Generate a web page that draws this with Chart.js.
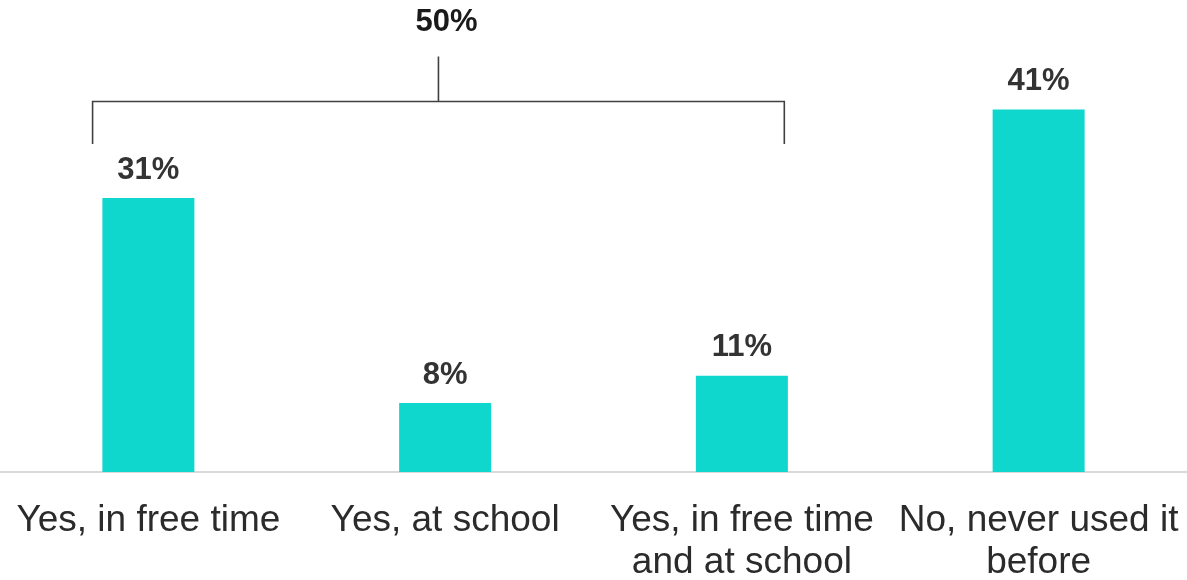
<!DOCTYPE html>
<html>
<head>
<meta charset="utf-8">
<script src="https://cdn.jsdelivr.net/npm/chart.js@4"></script>
<style>
html,body{margin:0;padding:0;background:#fff;}
#wrap{width:1187px;height:580px;position:relative;}
</style>
</head>
<body>
<div id="wrap"><canvas id="c" width="1187" height="580"></canvas></div>
<script>
const categories = [["Yes, in free time"], ["Yes, at school"], ["Yes, in free time", "and at school"], ["No, never used it", "before"]];
const values = [31, 7.8, 10.9, 41];
const valueLabels = ["31%", "8%", "11%", "41%"];
const bracketLabel = "50%";
const bracketLevel = 42;      // y value of horizontal bracket line
const bracketFoot = 37.1;     // y value of bracket legs' lower end
const bracketStem = 47;       // y value of centre stem top
const bracketText = 50.9;     // y value of the bracket label

const FONT = "'Liberation Sans', Arial, sans-serif";

const annot = {
  id: 'annot',
  afterDatasetsDraw(chart) {
    const ctx = chart.ctx;
    const xs = chart.scales.x, ys = chart.scales.y;
    const meta = chart.getDatasetMeta(0);
    ctx.save();
    ctx.font = "bold 31px " + FONT;
    ctx.fillStyle = "#333333";
    ctx.textAlign = "center";
    ctx.textBaseline = "middle";
    meta.data.forEach((bar, i) => {
      ctx.fillText(valueLabels[i], bar.x, bar.y - 28);
    });
    // bracket
    const cw = xs.getPixelForValue(1) - xs.getPixelForValue(0);
    const left = xs.getPixelForValue(0) - 0.188 * cw;
    const right = xs.getPixelForValue(2) + 0.143 * cw;
    const mid = (left + right) / 2;
    const yl = Math.round(ys.getPixelForValue(bracketLevel)) + 0.5;
    const yf = ys.getPixelForValue(bracketFoot);
    const yt = ys.getPixelForValue(bracketStem);
    ctx.strokeStyle = "#404040";
    ctx.lineWidth = 1.6;
    ctx.beginPath();
    ctx.moveTo(left, yf); ctx.lineTo(left, yl); ctx.lineTo(right, yl); ctx.lineTo(right, yf);
    ctx.moveTo(mid, yl); ctx.lineTo(mid, yt);
    ctx.stroke();
    ctx.fillStyle = "#1a1a1a";
    ctx.fillText(bracketLabel, mid + 8, ys.getPixelForValue(bracketText));
    ctx.restore();
  }
};

new Chart(document.getElementById('c'), {
  type: 'bar',
  data: {
    labels: categories,
    datasets: [{
      data: values,
      backgroundColor: '#0FD7CD',
      borderWidth: 0,
      categoryPercentage: 1,
      barPercentage: 0.31
    }]
  },
  options: {
    responsive: false,
    animation: false,
    layout: { padding: { top: 30, left: 0, right: 0, bottom: 0 } },
    plugins: { legend: { display: false }, tooltip: { enabled: false } },
    scales: {
      x: {
        grid: { display: false, drawTicks: false },
        border: { display: true, color: '#d9d9d9', width: 2 },
        ticks: {
          color: '#2b2b2b',
          font: { family: FONT, size: 37, lineHeight: 1.13 },
          padding: 28,
          maxRotation: 0,
          autoSkip: false
        },
        afterFit(scale) {
          scale.height = 108;
          scale.paddingLeft = 0;
          scale.paddingRight = 0;
        }
      },
      y: {
        display: false,
        min: 0,
        max: 50
      }
    }
  },
  plugins: [annot]
});
</script>
</body>
</html>
